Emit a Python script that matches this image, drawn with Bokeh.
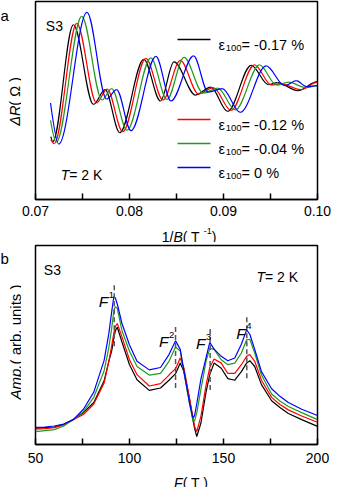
import math
from bokeh.plotting import figure
from bokeh.models import (Range1d, FixedTicker, NumeralTickFormatter, Label, ColumnDataSource)
from bokeh.layouts import column, row
from bokeh.embed import file_html
from bokeh.resources import INLINE

# ---------------- data ----------------
# Panel a: extrema of the quantum oscillations, x = 1/B (T^-1), y = dR (arb.)
strain_labels = ["-0.17", "-0.12", "-0.04", "0"]
colors = ["#000000", "#ff0000", "#1f9a1f", "#0000ff"]

inv_b_black = [0.07163, 0.07184, 0.07403, 0.07617, 0.07740, 0.07896, 0.08152, 0.08329, 0.08473,
               0.08703, 0.08864, 0.09044, 0.09294, 0.09479, 0.09575, 0.09789, 0.10000]
dr_black = [-0.73, -0.83, 1.53, -0.08, 0.22, -0.65, 0.83, -0.01, 0.78,
            0.11, 0.27, -0.22, 0.71, 0.32, 0.36, 0.20, 0.38]

inv_b_red = [0.07163, 0.07200, 0.07439, 0.07649, 0.07762, 0.07928, 0.08174, 0.08356, 0.08540,
             0.08735, 0.08891, 0.09080, 0.09329, 0.09511, 0.09607, 0.09821, 0.10000]
dr_red = [-0.79, -0.87, 1.56, -0.05, 0.23, -0.63, 0.85, 0.01, 0.81,
          0.13, 0.26, -0.20, 0.72, 0.31, 0.34, 0.22, 0.37]

inv_b_green = [0.07160, 0.07221, 0.07492, 0.07708, 0.07810, 0.07974, 0.08227, 0.08398, 0.08580,
               0.08784, 0.08939, 0.09126, 0.09383, 0.09565, 0.09693, 0.09875, 0.10000]
dr_green = [-0.40, -0.84, 1.70, 0.01, 0.24, -0.60, 0.86, 0.02, 0.87,
            0.15, 0.25, -0.19, 0.72, 0.31, 0.37, 0.26, 0.30]

inv_b_blue = [0.07160, 0.07248, 0.07548, 0.07756, 0.07863, 0.08016, 0.08281, 0.08441, 0.08682,
              0.08837, 0.08987, 0.09179, 0.09454, 0.09650, 0.09775, 0.09882, 0.10000]
dr_blue = [-0.05, -0.88, 1.78, 0.03, 0.22, -0.61, 0.89, -0.01, 0.90,
           0.17, 0.24, -0.24, 0.70, 0.30, 0.40, 0.28, 0.30]

xa_ticks = [0.07, 0.08, 0.09, 0.1]
xa_minor = [0.075, 0.085, 0.095]

# Panel b: FFT amplitude (arb. units) versus frequency F (T)
freq = [50, 55, 60, 65, 70, 75.5, 81, 86.5, 89, 90.5, 91.7, 92.5, 93.5, 96, 100, 104, 110.5,
        116.5, 121, 124.5, 127, 129, 132, 133.7, 134.6, 135.8, 138, 140.7, 142.7, 145, 148.8,
        152.3, 156, 159.5, 162.3, 164, 166.6, 170.2, 175.6, 180, 184.5, 191.6, 200]
amp_black = [0.082, 0.085, 0.088, 0.101, 0.126, 0.160, 0.211, 0.320, 0.418, 0.469, 0.536, 0.572,
             0.589, 0.515, 0.401, 0.325, 0.272, 0.284, 0.323, 0.356, 0.409, 0.366, 0.227, 0.125,
             0.082, 0.040, 0.108, 0.263, 0.351, 0.409, 0.383, 0.331, 0.323, 0.366, 0.409, 0.421,
             0.392, 0.301, 0.220, 0.186, 0.156, 0.125, 0.091]
amp_red = [0.077, 0.080, 0.085, 0.098, 0.124, 0.151, 0.203, 0.309, 0.418, 0.495, 0.562, 0.593,
           0.608, 0.541, 0.426, 0.351, 0.294, 0.306, 0.349, 0.381, 0.435, 0.383, 0.227, 0.143,
           0.091, 0.065, 0.143, 0.297, 0.387, 0.430, 0.409, 0.357, 0.357, 0.401, 0.443, 0.452,
           0.418, 0.323, 0.237, 0.201, 0.174, 0.143, 0.112]
amp_green = [0.065, 0.070, 0.075, 0.093, 0.124, 0.165, 0.237, 0.371, 0.486, 0.582, 0.675, 0.693,
             0.684, 0.572, 0.469, 0.392, 0.349, 0.357, 0.418, 0.490, 0.469, 0.357, 0.201, 0.124,
             0.117, 0.160, 0.278, 0.418, 0.483, 0.478, 0.426, 0.401, 0.409, 0.460, 0.526, 0.529,
             0.460, 0.349, 0.254, 0.219, 0.191, 0.160, 0.125]
amp_blue = [0.086, 0.088, 0.093, 0.103, 0.124, 0.177, 0.263, 0.423, 0.557, 0.665, 0.744, 0.735,
            0.706, 0.608, 0.500, 0.418, 0.375, 0.387, 0.452, 0.521, 0.478, 0.366, 0.206, 0.134,
            0.144, 0.206, 0.330, 0.435, 0.513, 0.479, 0.443, 0.421, 0.435, 0.504, 0.576, 0.554,
            0.478, 0.366, 0.280, 0.242, 0.211, 0.177, 0.146]

# frequency markers F1..F4 (dashed lines)
peak_names = ["1", "2", "3", "4"]
peak_freq = [91.9, 124.5, 142.9, 162.4]
peak_mark_top = [0.80, 0.59, 0.58, 0.64]
peak_mark_bot = [0.48, 0.27, 0.26, 0.33]
peak_label_x = [83.6, 115.7, 135.4, 156.8]
peak_label_y = [0.718, 0.517, 0.507, 0.558]

xb_ticks = [50, 100, 150, 200]
xb_minor = [75, 125, 175]

# ---------------- helpers ----------------
FONT = "Liberation Sans"
W = {' ': .278, '(': .333, ')': .333, '/': .278, '.': .278, '-': .333, '=': .584, '%': .889,
     'A': .667, 'B': .667, 'F': .611, 'K': .667, 'R': .722, 'S': .667, 'T': .611,
     'Δ': .668, 'Ω': .768, 'a': .556, 'b': .556, 'm': .833, 'n': .556, 'p': .556, 'r': .333,
     's': .5, 't': .278, 'u': .556, 'i': .222, 'ε': .5}


def tw(s, size):
    return sum(W.get(c, 0.556) for c in s) * size


def runs(p, x, y, parts, angle=0.0):
    pos = 0.0
    for text, size, style, dy in parts:
        if angle == 0:
            lx, ly = x + pos, y + dy
        else:
            lx, ly = x - dy, y + pos
        p.add_layout(Label(x=lx, y=ly, x_units="screen", y_units="screen", text=text,
                           text_font=FONT, text_font_size=f"{size}px", text_font_style=style,
                           angle=angle, text_baseline="alphabetic", text_align="left",
                           text_color="black"))
        pos += tw(text, size)


def bezier_source(xs, ys, k=0.34):
    d = dict(x0=[], y0=[], x1=[], y1=[], cx0=[], cy0=[], cx1=[], cy1=[])
    for i in range(len(xs) - 1):
        xa, xb, ya, yb = xs[i], xs[i + 1], ys[i], ys[i + 1]
        dx = xb - xa
        k0 = 0.0 if i == 0 else k
        d['x0'].append(xa); d['y0'].append(ya)
        d['x1'].append(xb); d['y1'].append(yb)
        d['cx0'].append(xa + k0 * dx); d['cy0'].append(ya)
        d['cx1'].append(xb - k * dx); d['cy1'].append(yb)
    return ColumnDataSource(d)


def style_axis(ax, ticks, minor, standoff):
    ax.ticker = FixedTicker(ticks=ticks, minor_ticks=minor)
    ax.major_tick_in = 6
    ax.major_tick_out = 0
    ax.minor_tick_in = 6
    ax.minor_tick_out = 0
    ax.major_tick_line_width = 1.5
    ax.minor_tick_line_width = 1.5
    ax.major_tick_line_color = "black"
    ax.minor_tick_line_color = "black"
    ax.axis_line_width = 1.5
    ax.axis_line_color = "black"
    ax.major_label_text_font = FONT
    ax.major_label_text_font_size = "14px"
    ax.major_label_text_color = "black"
    ax.major_label_standoff = standoff


MAIN_W = 310
STRIP_W = 21
BORDER_LR = 14


def main_fig(height, xr, yr, top, bottom):
    p = figure(width=MAIN_W, height=height, x_range=xr, y_range=yr, output_backend="svg",
               toolbar_location=None, y_axis_location=None,
               min_border_left=BORDER_LR, min_border_right=BORDER_LR, min_border_top=top,
               min_border_bottom=bottom)
    p.grid.visible = False
    p.outline_line_color = "black"
    p.outline_line_width = 1.5
    p.outline_line_alpha = 1.0
    p.background_fill_color = "white"
    p.border_fill_color = "white"
    return p


def strip(w, h):
    s = figure(width=w, height=h, x_range=Range1d(0, w), y_range=Range1d(0, h),
               output_backend="svg", toolbar_location=None, x_axis_location=None,
               y_axis_location=None, min_border=0)
    s.outline_line_color = None
    s.grid.visible = False
    s.background_fill_color = "white"
    s.border_fill_color = "white"
    return s


# ---------------- panel a ----------------
A_TOP, A_BOTTOM, A_H = 1, 23, 222
xr_a, yr_a = Range1d(0.07, 0.10), Range1d(-2, 2)
p1 = main_fig(A_H, xr_a, yr_a, A_TOP, A_BOTTOM)
style_axis(p1.xaxis[0], xa_ticks, xa_minor, 6)
p1.xaxis[0].formatter = NumeralTickFormatter(format="0.00")

curves_a = [(inv_b_black, dr_black), (inv_b_red, dr_red), (inv_b_green, dr_green), (inv_b_blue, dr_blue)]
for (xs, ys), c in zip(curves_a, colors):
    p1.bezier(x0="x0", y0="y0", x1="x1", y1="y1", cx0="cx0", cy0="cy0", cx1="cx1", cy1="cy1",
              source=bezier_source(xs, ys), line_color=c, line_width=1.2)

# legend: key lines placed at frame-pixel offsets (converted to the axis scale) + text labels
frame_w = MAIN_W - 2 * BORDER_LR
frame_h = A_H - A_TOP - A_BOTTOM


def fx(px):
    return xr_a.start + px / frame_w * (xr_a.end - xr_a.start)


def fy(py):
    return yr_a.start + py / frame_h * (yr_a.end - yr_a.start)


key_x0, key_x1 = 142, 175
key_centers = [160, 80, 56, 32]
p1.segment(x0=[fx(key_x0)] * 4, x1=[fx(key_x1)] * 4,
           y0=[fy(c) for c in key_centers], y1=[fy(c) for c in key_centers],
           line_color=colors, line_width=1.3)
for s, yc in zip(strain_labels, key_centers):
    runs(p1, key_x1 + 8, yc - 5, [("ε", 14.5, "normal", 0), ("100", 9.5, "normal", -3.5),
                                  (" = %s %%" % s, 14.5, "normal", 0)])

runs(p1, 10.3, 174, [("S3", 14, "normal", 0)])
runs(p1, 25.2, 24.4, [("T", 14, "italic", 0), (" = 2 K", 14, "normal", 0)])

xa_lab = strip(MAIN_W, 20)
runs(xa_lab, 126.3, 5.6, [("1/", 14, "normal", 0), ("B", 14, "italic", 0), (" ( T", 14, "normal", 0),
                          ("-1", 9, "normal", 5.5), (" )", 14, "normal", 0)])
ya_lab = strip(STRIP_W, 242)
runs(ya_lab, 0, 227, [("a", 15, "normal", 0)])
runs(ya_lab, 14, 116.7, [("ΔR", 14.5, "italic", 0), (" ( Ω )", 14.5, "normal", 0)], angle=math.pi / 2)

# ---------------- panel b ----------------
p2 = main_fig(226, Range1d(50, 200), Range1d(0, 1), 3, 24)
style_axis(p2.xaxis[0], xb_ticks, xb_minor, 8)

for ys, c in zip([amp_black, amp_red, amp_green, amp_blue], colors):
    p2.line(freq, ys, line_color=c, line_width=1.2)

p2.segment(x0=peak_freq, y0=peak_mark_top, x1=peak_freq, y1=peak_mark_bot,
           line_color="#555555", line_width=1.5, line_dash="5 3")

for name, lx, ly in zip(peak_names, peak_label_x, peak_label_y):
    p2.add_layout(Label(x=lx, y=ly, text="F", text_font=FONT, text_font_size="15.5px",
                        text_font_style="italic", text_baseline="alphabetic", text_color="black"))
    p2.add_layout(Label(x=lx, y=ly, x_offset=tw("F", 15.5) + 0.5, y_offset=7, text=name, text_font=FONT,
                        text_font_size="9.5px", text_baseline="alphabetic", text_color="black"))

runs(p2, 8.3, 175, [("S3", 14, "normal", 0)])
runs(p2, 221, 168, [("T", 14, "italic", 0), (" = 2 K", 14, "normal", 0)])

xb_lab = strip(MAIN_W, 19)
runs(xb_lab, 138.6, 5, [("F", 14, "italic", 0), (" ( T )", 14, "normal", 0)])
yb_lab = strip(STRIP_W, 245)
runs(yb_lab, 0, 229.5, [("b", 15, "normal", 0)])
runs(yb_lab, 14.5, 88, [("Amp.", 15, "italic", 0), (" ( arb. units )", 15, "normal", 0)], angle=math.pi / 2)

layout = column(
    row(ya_lab, column(p1, xa_lab, spacing=0), spacing=0),
    row(yb_lab, column(p2, xb_lab, spacing=0), spacing=0),
    spacing=0,
)
open("out.html", "w").write(file_html(layout, INLINE))
